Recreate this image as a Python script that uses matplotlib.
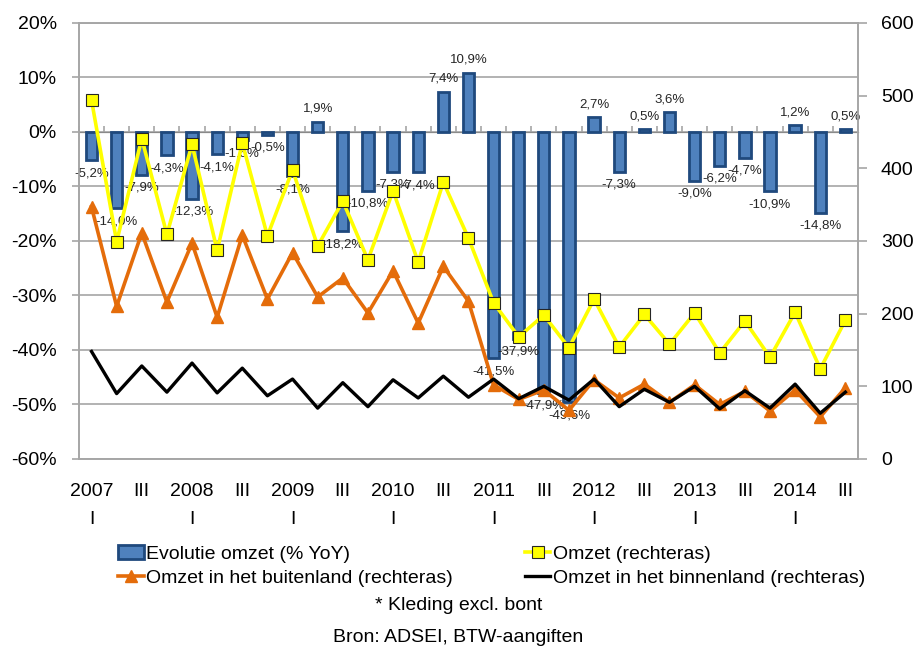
import numpy as np
import matplotlib
matplotlib.use('Agg')
import matplotlib.pyplot as plt
from matplotlib.patches import Patch
from matplotlib.lines import Line2D

plt.rcParams['font.family'] = ['Liberation Sans', 'DejaVu Sans']

# Kwartalen 2007 I - 2014 III
jaren = [2007, 2008, 2009, 2010, 2011, 2012, 2013, 2014]
kwartalen = ['I', 'II', 'III', 'IV']

# Evolutie omzet (% YoY)
evolutie = [-5.2, -14.0, -7.9, -4.3,
            -12.3, -4.1, -1.5, -0.5,
            -8.1, 1.9, -18.2, -10.8,
            -7.3, -7.4, 7.4, 10.9,
            -41.5, -37.9, -47.9, -49.6,
            2.7, -7.3, 0.5, 3.6,
            -9.0, -6.2, -4.7, -10.9,
            1.2, -14.8, 0.5]

# Omzet (rechteras)
omzet = [494, 299, 441, 309,
         433, 287, 435, 307,
         398, 293, 355, 274,
         369, 271, 381, 304,
         215, 168, 198, 153,
         220, 154, 199, 158,
         201, 146, 190, 140,
         202, 124, 191]

# Omzet in het buitenland (rechteras)
buitenland = [347, 210, 311, 216,
              297, 195, 308, 220,
              284, 223, 249, 201,
              259, 187, 265, 217,
              102, 82, 95, 67,
              109, 84, 103, 78,
              102, 75, 93, 66,
              95, 58, 98]

# Omzet in het binnenland (rechteras)
binnenland = [148, 90, 128, 92,
              132, 91, 125, 87,
              110, 70, 105, 72,
              109, 84, 114, 85,
              110, 83, 100, 81,
              110, 72, 96, 78,
              100, 69, 94, 70,
              103, 63, 92]

n = len(evolutie)
x = np.arange(n)

# as-labels: jaar + "I" voor het eerste kwartaal, "III" voor het derde
labels = []
for i in range(n):
    jaar = jaren[i // 4]
    kw = kwartalen[i % 4]
    if kw == 'I':
        labels.append(f'{jaar}\nI')
    elif kw == 'III':
        labels.append('III')
    else:
        labels.append('')

grijs = '#A6A6A6'
blauw = '#4F81BD'
donkerblauw = '#1F497D'
oranje = '#E46C0A'
geel = '#FFFF00'

fig = plt.figure(figsize=(9.17, 6.59), dpi=100)
ax = fig.add_axes([0.0861, 0.3035, 0.8495, 0.6616])
ax2 = ax.twinx()

# Balken
bars = ax.bar(x, evolutie, width=0.45, color=blauw, edgecolor=donkerblauw,
              linewidth=2.0, zorder=2)
ax.bar_label(bars, labels=[f'{v:.1f}%'.replace('.', ',') for v in evolutie],
             padding=5, fontsize=9.5, color='#262626')

ax.set_xlim(-0.5, n - 0.5)
ax.set_ylim(-60, 20)
ax.set_yticks(np.arange(-60, 21, 10))
ax.set_yticklabels([f'{v}%' for v in range(-60, 21, 10)])
ax.grid(axis='y', color=grijs, linewidth=1.2, zorder=0)
ax.set_axisbelow(True)
ax.set_xticks(x)
ax.set_xticklabels(labels, linespacing=1.9)
ax.tick_params(axis='x', length=0, pad=17, labelsize=14)
ax.tick_params(axis='y', length=5, width=1.2, color=grijs, pad=11, labelsize=14)
for s in ['top', 'bottom', 'left', 'right']:
    ax.spines[s].set_color(grijs)
    ax.spines[s].set_linewidth(1.2)

# as op 0% met streepjes tussen de kwartalen
nul = ax.secondary_xaxis(0.75)
nul.set_xticks(np.arange(-0.5, n, 1.0))
nul.set_xticklabels([])
nul.tick_params(axis='x', direction='out', length=4, width=1.2, color=grijs)
nul.spines['bottom'].set_color(grijs)
nul.spines['bottom'].set_linewidth(1.2)

# Lijnen op de rechteras
ax2.plot(x, omzet, color=geel, linewidth=2.6, marker='s', markersize=8,
         markerfacecolor=geel, markeredgecolor='#262626', markeredgewidth=0.8,
         zorder=3)
ax2.plot(x, buitenland, color=oranje, linewidth=2.6, marker='^', markersize=9,
         markerfacecolor=oranje, markeredgecolor=oranje, zorder=4)
ax2.plot(x, binnenland, color='black', linewidth=2.4, zorder=5)
ax2.set_ylim(0, 600)
ax2.set_yticks(np.arange(0, 601, 100))
ax2.tick_params(axis='y', length=6.5, width=1.2, color=grijs, pad=10, labelsize=14)
for s in ['top', 'bottom', 'left', 'right']:
    ax2.spines[s].set_color(grijs)
    ax2.spines[s].set_linewidth(1.2)

# Legende
handles = [
    Patch(facecolor=blauw, edgecolor=donkerblauw, linewidth=2.0),
    Line2D([], [], color=oranje, linewidth=2.6, marker='^', markersize=9),
    Line2D([], [], color=geel, linewidth=2.6, marker='s', markersize=8,
           markerfacecolor=geel, markeredgecolor='#262626', markeredgewidth=0.8),
    Line2D([], [], color='black', linewidth=2.4),
]
namen = ['Evolutie omzet (% YoY)', 'Omzet in het buitenland (rechteras)',
         'Omzet (rechteras)', 'Omzet in het binnenland (rechteras)']
fig.legend(handles, namen, ncol=2, loc='center left',
           bbox_to_anchor=(0.129, 1 - 566 / 659), frameon=False, fontsize=14,
           handlelength=1.3, handletextpad=0.15, columnspacing=3.7,
           labelspacing=0.35, borderpad=0, borderaxespad=0)

fig.text(0.5, 1 - 606 / 659, '* Kleding excl. bont', ha='center', va='center',
         fontsize=14)
fig.text(0.5, 1 - 638 / 659, 'Bron: ADSEI, BTW-aangiften', ha='center',
         va='center', fontsize=14)

fig.savefig('out.png', dpi=100)
